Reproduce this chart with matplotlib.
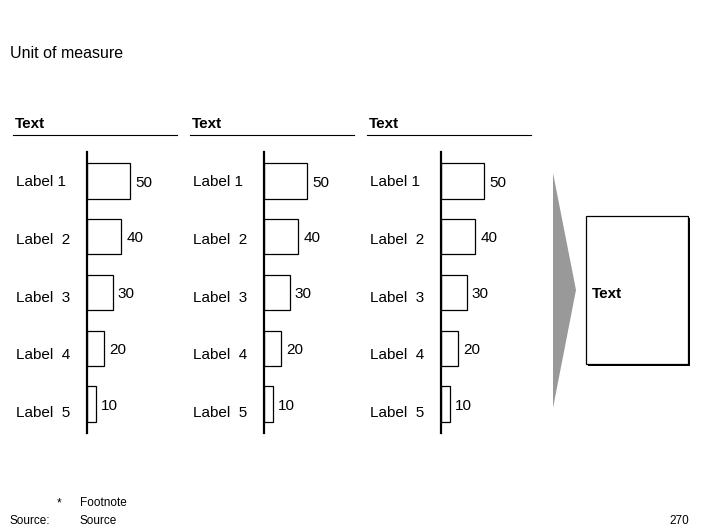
import matplotlib
matplotlib.use("Agg")
import matplotlib.pyplot as plt
from matplotlib.patches import Polygon, Rectangle

plt.rcParams['font.family'] = ['Liberation Sans', 'DejaVu Sans']

# ---- data ----
categories = ["Label 1", "Label  2", "Label  3", "Label  4", "Label  5"]
panel_titles = ["Text", "Text", "Text"]
panel_values = [
    [50, 40, 30, 20, 10],
    [50, 40, 30, 20, 10],
    [50, 40, 30, 20, 10],
]
unit_text = "Unit of measure"
result_text = "Text"
footnote_mark = "*"
footnote_text = "Footnote"
source_label = "Source:"
source_text = "Source"
page_number = "270"

W, H = 706, 529
fig = plt.figure(figsize=(W / 100, H / 100), dpi=100)

def fx(px):
    return px / W

def fy(py):
    return 1 - py / H

# overlay axes in pixel coords
ov = fig.add_axes([0, 0, 1, 1], zorder=5)
ov.set_xlim(0, W)
ov.set_ylim(H, 0)
ov.axis('off')

DY = 1.5  # text vertical nudge (px, downward)
FS = 11
px_per_unit = 0.86
panel_dx = 177
axis_x0 = 87
ax_top, ax_bot = 152, 433
ax_w = 90
n = len(categories)
spacing = (ax_bot - ax_top - 58) / (n - 1)
pad = 29 / spacing
label_y0, label_step = 181, 57.6

ov.text(10, 52 + DY, unit_text, fontsize=11.5, va='center', ha='left')

for p, (title, vals) in enumerate(zip(panel_titles, panel_values)):
    off = p * panel_dx
    ov.text(15 + off, 122 + DY, title, fontsize=FS, fontweight='bold', va='center', ha='left')
    ov.plot([13 + off, 177 + off], [135, 135], color='black', lw=0.8)

    x0 = axis_x0 + off
    ax = fig.add_axes([fx(x0), fy(ax_bot), ax_w / W, (ax_bot - ax_top) / H])
    ax.set_xlim(0, ax_w / px_per_unit)
    ax.set_ylim(n - 1 + pad, -pad)
    ax.patch.set_visible(False)
    for s in ['top', 'right', 'bottom']:
        ax.spines[s].set_visible(False)
    ax.spines['left'].set_linewidth(1.6)
    ax.set_xticks([])
    ax.set_yticks([])
    ys = list(range(n))
    ax.barh(ys, vals, height=0.63, color='white', edgecolor='black', linewidth=0.9, zorder=1)
    for y, v in zip(ys, vals):
        ax.annotate(str(v), (v, y), xytext=(3.6, -1.2), textcoords='offset points',
                    fontsize=FS, va='center', ha='left')
    for i, c in enumerate(categories):
        ov.text(16 + off, label_y0 + i * label_step + DY, c, fontsize=FS,
                va='center', ha='left')

# arrow (chevron)
ov.add_patch(Polygon([[553, 173], [576, 290], [553, 408]], closed=True,
                     facecolor='#999999', edgecolor='none'))
# result box with shadow
ov.add_patch(Rectangle((588, 218), 102, 148, facecolor='black', edgecolor='none'))
ov.add_patch(Rectangle((586, 216), 102, 148, facecolor='white', edgecolor='black', lw=0.9))
ov.text(592, 292 + DY, result_text, fontsize=FS, fontweight='bold', va='center', ha='left')

# footer
ov.text(57, 502 + DY, footnote_mark, fontsize=8.5, va='center', ha='left')
ov.text(80, 502 + DY, footnote_text, fontsize=8.5, va='center', ha='left')
ov.text(10, 520 + DY, source_label, fontsize=8.5, va='center', ha='left')
ov.text(80, 520 + DY, source_text, fontsize=8.5, va='center', ha='left')
ov.text(689, 520 + DY, page_number, fontsize=8.5, va='center', ha='right')

fig.savefig("out.png", dpi=100)
